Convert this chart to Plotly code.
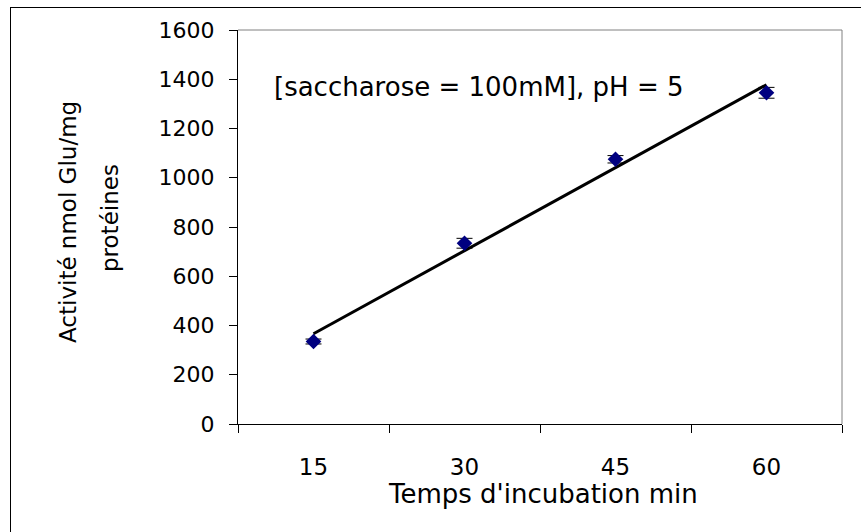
import numpy as np
import plotly.graph_objects as go

categories = ["15", "30", "45", "60"]
activity = [335, 734, 1075, 1345]
errors = [10, 20, 15, 22]
y_ticks = [0, 200, 400, 600, 800, 1000, 1200, 1400, 1600]
y_title_lines = ["Activité nmol Glu/mg", "protéines"]

FONT = "DejaVu Sans, Liberation Sans, Arial, sans-serif"

# linear trendline (Excel-style) over category index
idx = np.arange(1, len(activity) + 1)
slope, intercept = np.polyfit(idx, activity, 1)
trend_y = [intercept + slope * idx[0], intercept + slope * idx[-1]]

fig = go.Figure()
fig.add_trace(go.Scatter(
    x=[categories[0], categories[-1]], y=trend_y, mode="lines",
    line=dict(color="black", width=3), hoverinfo="skip", showlegend=False))
fig.add_trace(go.Scatter(
    x=categories, y=activity, mode="markers",
    marker=dict(symbol="diamond", size=12, color="#000080"),
    error_y=dict(type="data", array=errors, color="black", thickness=1, width=8),
    showlegend=False))

L, R, T, B = 238, 19, 30, 108
W, H = 861, 532
pw, ph = W - L - R, H - T - B

def px(x):
    return (x - L) / pw

def py(y):
    return (H - B - y) / ph

fig.update_layout(
    width=W, height=H,
    margin=dict(l=L, r=R, t=T, b=B, pad=0),
    paper_bgcolor="white", plot_bgcolor="white",
    font=dict(family=FONT, size=22, color="black"),
    xaxis=dict(
        type="category", categoryorder="array", categoryarray=categories,
        tickson="boundaries", ticks="outside", ticklen=8, tickcolor="black",
        showline=True, linecolor="black", linewidth=1, showgrid=False,
        zeroline=False, ticklabelstandoff=22, tickfont=dict(size=23),
        range=[-0.5, 3.5]),
    yaxis=dict(
        range=[0, 1600], tickvals=y_ticks, ticks="outside", ticklen=8,
        tickcolor="black", showline=True, linecolor="black", linewidth=1,
        showgrid=False, zeroline=False, ticklabelstandoff=10,
        tickfont=dict(size=22)),
    shapes=[
        dict(type="line", xref="paper", yref="paper", x0=0, x1=1, y0=1, y1=1,
             line=dict(color="#808080", width=1)),
        dict(type="line", xref="paper", yref="paper", x0=1, x1=1, y0=0, y1=1,
             line=dict(color="#808080", width=1)),
        dict(type="line", xref="paper", yref="paper", x0=px(10), x1=px(880),
             y0=py(7.5), y1=py(7.5), line=dict(color="black", width=1)),
        dict(type="line", xref="paper", yref="paper", x0=px(10.5), x1=px(10.5),
             y0=py(7), y1=py(560), line=dict(color="black", width=1)),
    ],
    annotations=[
        dict(text="[saccharose = 100mM], pH = 5", xref="paper", yref="paper",
             x=px(272), y=py(87), xanchor="left", yanchor="middle",
             showarrow=False, font=dict(size=26)),
        dict(text="Temps d'incubation min", xref="paper", yref="paper",
             x=px(543), y=py(494), xanchor="center", yanchor="middle",
             showarrow=False, font=dict(size=26)),
        dict(text=y_title_lines[0], xref="paper", yref="paper",
             x=px(68), y=py(222), xanchor="center", yanchor="middle",
             textangle=-90, showarrow=False, font=dict(size=23)),
        dict(text=y_title_lines[1], xref="paper", yref="paper",
             x=px(110), y=py(218), xanchor="center", yanchor="middle",
             textangle=-90, showarrow=False, font=dict(size=23)),
    ],
)

fig.write_html("out.html")
